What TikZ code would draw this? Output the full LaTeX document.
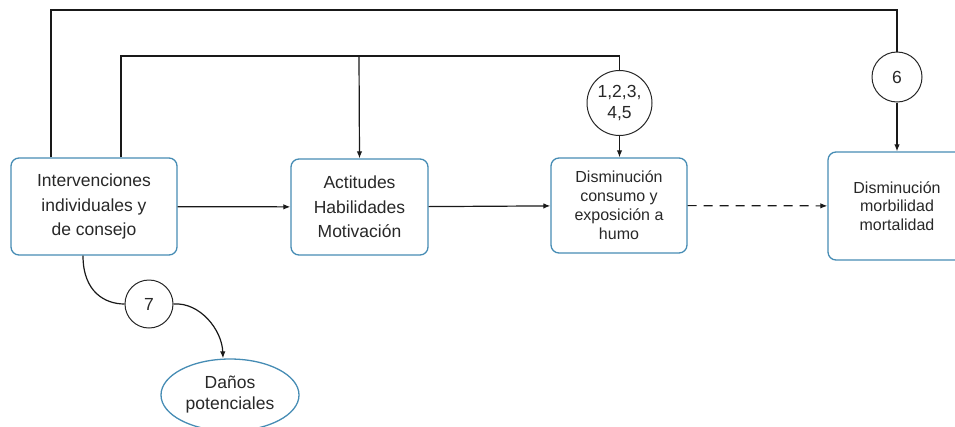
\documentclass[tikz,border=0pt]{standalone}
\usepackage{fontspec}
\setmainfont{Liberation Sans}
\usetikzlibrary{arrows.meta,shapes.geometric}
\definecolor{boxblue}{RGB}{70,140,180}
\definecolor{txt}{RGB}{40,40,40}
\begin{document}
\begin{tikzpicture}[x=1pt,y=-1pt,
  box/.style={draw=boxblue,line width=1.3pt,rounded corners=8pt,align=center,text=txt,
    inner sep=0pt,font=\fontsize{17.5}{24.5}\selectfont},
  num/.style={circle,draw=black!85,line width=1pt,align=center,inner sep=0pt,text=txt,
    font=\fontsize{17.5}{21}\selectfont},
  conn/.style={draw=black!90,line width=1.2pt},
  arr/.style={conn,-{Latex[length=7pt,width=5.5pt]}}]
\useasboundingbox (0,0) rectangle (955,426);
\node[box,minimum width=166pt,minimum height=97pt] (b1) at (94,206.5) {Intervenciones\\individuales y\\de consejo};
\node[box,minimum width=137pt,minimum height=96pt] (b2) at (359.5,207) {Actitudes\\Habilidades\\Motivación};
\node[box,minimum width=136pt,minimum height=95pt,font=\fontsize{16}{19}\selectfont] (b3) at (619,205.5) {Disminución\\consumo y\\exposición a\\humo};
\node[box,minimum width=138pt,minimum height=108pt,font=\fontsize{16}{18.5}\selectfont] (b4) at (897,206) {Disminución\\morbilidad\\mortalidad};
\node[num,minimum size=65pt] (c1) at (619.5,103) {1,2,3,\\4,5};
\node[num,minimum size=50pt] (c6) at (897,77) {6};
\node[num,minimum size=48pt] (c7) at (149,304) {7};
\node[ellipse,draw=boxblue,line width=1.3pt,minimum width=138pt,minimum height=72pt,align=center,text=txt,
  inner sep=0pt,font=\fontsize{17.5}{21}\selectfont] (d) at (230,395) {Daños\\potenciales};
\coordinate (t1) at (51,10);
\coordinate (t2) at (897,10);
\coordinate (u1) at (121,56);
\coordinate (u2) at (619.5,56);
\coordinate (u3) at (359,56);
\coordinate (s1) at (83,255);
\draw[conn] (b1.north -| t1) -- (t1) -- (t2) -- (c6.north);
\draw[arr] (c6.south) -- (b4.north);
\draw[conn] (b1.north -| u1) -- (u1) -- (u2) -- (c1.north);
\draw[arr] (u3) -- (b2.north);
\draw[arr] (c1.south) -- (b3.north -| c1.south);
\draw[arr] (b1) -- (b2);
\draw[arr] (b2) -- (b3);
\draw[arr,dash pattern=on 9pt off 7pt] (b3) -- (b4);
\draw[conn] (b1.south -| s1) .. controls (83,292) and (105,304) .. (c7.west);
\draw[arr] (c7.east) .. controls (200,302) and (222,330) .. ([xshift=-7pt]d.north);
\end{tikzpicture}
\end{document}
